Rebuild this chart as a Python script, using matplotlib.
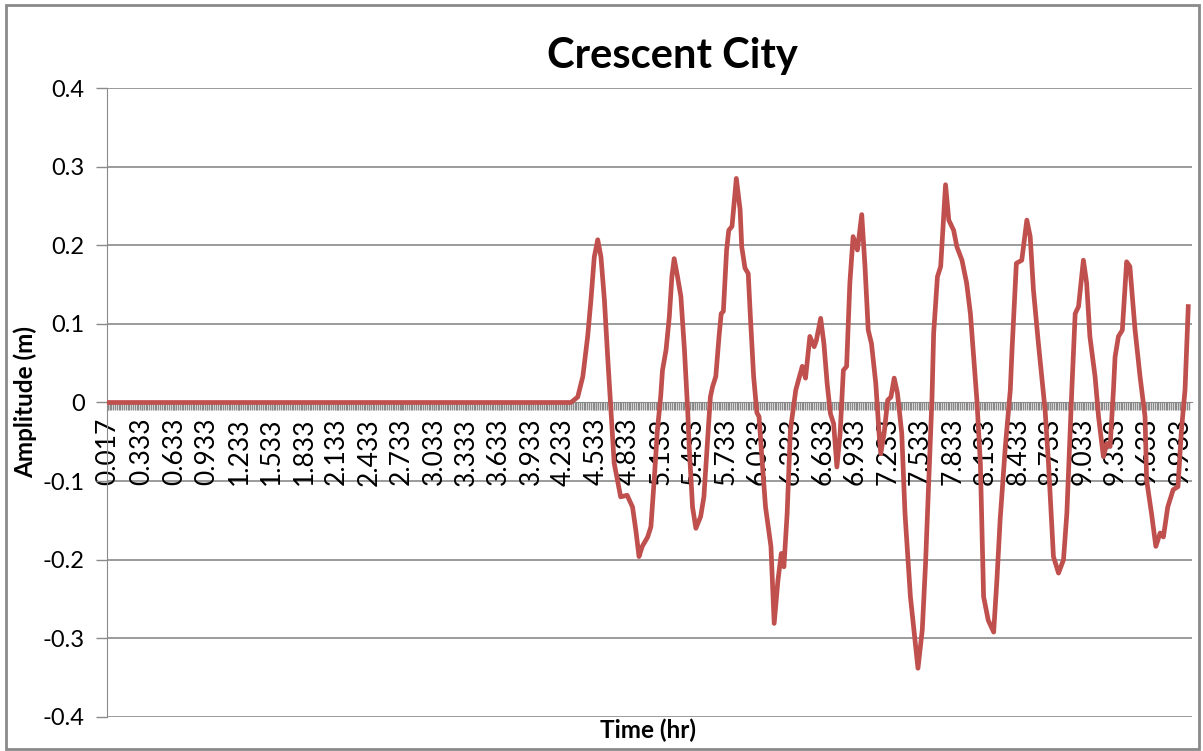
import numpy as np
import matplotlib.pyplot as plt
from matplotlib.patches import Rectangle

plt.rcParams['font.family'] = ['Lato', 'DejaVu Sans']

# trace: time (hr) and amplitude (m)
time_hr = [0.017, 4.30, 4.363, 4.41, 4.455, 4.485, 4.516, 4.548, 4.578, 4.61, 4.64,
           4.67, 4.70, 4.76, 4.82, 4.87, 4.90, 4.93, 4.96, 5.01, 5.04, 5.07, 5.10,
           5.13, 5.147, 5.18, 5.21, 5.234, 5.255, 5.286, 5.317, 5.35, 5.38, 5.394,
           5.425, 5.456, 5.50, 5.53, 5.56, 5.59, 5.61, 5.64, 5.67, 5.69, 5.71, 5.74,
           5.76, 5.79, 5.83, 5.865, 5.88, 5.91, 5.94, 5.96, 5.99, 6.02, 6.04, 6.07,
           6.10, 6.15, 6.18, 6.215, 6.246, 6.27, 6.30, 6.33, 6.38, 6.44, 6.47, 6.51,
           6.55, 6.57, 6.61, 6.64, 6.67, 6.70, 6.73, 6.76, 6.79, 6.82, 6.85, 6.88,
           6.91, 6.95, 6.99, 7.02, 7.05, 7.08, 7.12, 7.15, 7.166, 7.197, 7.23, 7.26,
           7.29, 7.32, 7.36, 7.39, 7.44, 7.51, 7.55, 7.58, 7.61, 7.64, 7.655, 7.69,
           7.72, 7.765, 7.795, 7.84, 7.87, 7.917, 7.96, 7.995, 8.055, 8.087, 8.117,
           8.16, 8.21, 8.24, 8.27, 8.318, 8.364, 8.38, 8.42, 8.47, 8.517, 8.548,
           8.578, 8.624, 8.686, 8.717, 8.763, 8.81, 8.856, 8.887, 8.933, 8.964,
           8.995, 9.04, 9.07, 9.10, 9.148, 9.18, 9.225, 9.256, 9.287, 9.318, 9.333,
           9.364, 9.40, 9.44, 9.47, 9.518, 9.564, 9.61, 9.625, 9.67, 9.71, 9.75,
           9.78, 9.82, 9.87, 9.915, 9.947, 9.98, 10.01]
amplitude_m = [0.0, 0.0, 0.007, 0.033, 0.084, 0.13, 0.185, 0.207, 0.185, 0.13, 0.058,
               -0.01, -0.077, -0.12, -0.118, -0.133, -0.162, -0.196, -0.183, -0.171,
               -0.158, -0.099, -0.035, 0.007, 0.041, 0.067, 0.109, 0.16, 0.183, 0.16,
               0.135, 0.067, -0.01, -0.056, -0.133, -0.16, -0.145, -0.12, -0.056,
               0.007, 0.02, 0.033, 0.084, 0.113, 0.116, 0.194, 0.219, 0.224, 0.285,
               0.245, 0.198, 0.171, 0.164, 0.109, 0.033, -0.013, -0.018, -0.077,
               -0.133, -0.183, -0.281, -0.226, -0.192, -0.209, -0.141, -0.035, 0.016,
               0.046, 0.031, 0.084, 0.071, 0.079, 0.107, 0.075, 0.024, -0.014, -0.027,
               -0.082, -0.039, 0.041, 0.046, 0.152, 0.211, 0.194, 0.239, 0.173, 0.092,
               0.075, 0.024, -0.039, -0.065, -0.039, 0.003, 0.007, 0.031, 0.012,
               -0.039, -0.141, -0.247, -0.338, -0.289, -0.205, -0.099, 0.007, 0.088,
               0.16, 0.173, 0.277, 0.232, 0.219, 0.198, 0.181, 0.152, 0.113, 0.003,
               -0.077, -0.247, -0.277, -0.292, -0.226, -0.149, -0.056, 0.016, 0.067,
               0.177, 0.181, 0.232, 0.211, 0.143, 0.075, -0.01, -0.077, -0.196,
               -0.217, -0.2, -0.141, 0.016, 0.113, 0.122, 0.181, 0.152, 0.084, 0.033,
               -0.018, -0.069, -0.052, -0.056, 0.016, 0.058, 0.084, 0.092, 0.179,
               0.173, 0.092, 0.033, -0.018, -0.099, -0.141, -0.183, -0.166, -0.171,
               -0.133, -0.111, -0.107, -0.035, 0.016, 0.122]

time_labels = ['0.017', '0.333', '0.633', '0.933', '1.233', '1.533', '1.833', '2.133',
               '2.433', '2.733', '3.033', '3.333', '3.633', '3.933', '4.233', '4.533',
               '4.833', '5.133', '5.433', '5.733', '6.033', '6.333', '6.633', '6.933',
               '7.233', '7.533', '7.833', '8.133', '8.433', '8.733', '9.033', '9.333',
               '9.633', '9.933']
amp_ticks = [-0.4, -0.3, -0.2, -0.1, 0, 0.1, 0.2, 0.3, 0.4]
amp_labels = ['-0.4', '-0.3', '-0.2', '-0.1', '0', '0.1', '0.2', '0.3', '0.4']

grey = '#8a8a8a'

fig = plt.figure(figsize=(12.03, 7.51), dpi=100)
ax = fig.add_axes([0.0889, 0.0453, 0.902, 0.8375])

ax.plot(time_hr, amplitude_m, color='#C0504D', lw=3.4, solid_joinstyle='round', zorder=5)

ax.set_ylim(-0.4, 0.4)
ax.set_xlim(0.0087, 10.045)
ax.set_yticks(amp_ticks)
ax.set_yticklabels(amp_labels, fontsize=17)
for v in amp_ticks:
    if v != 0:
        ax.axhline(v, color=grey, lw=1.2, zorder=1)

# category axis sits at zero, one tick per minute
ax.spines['bottom'].set_position(('data', 0))
ax.spines['bottom'].set_color(grey)
ax.spines['left'].set_color(grey)
ax.spines['top'].set_visible(False)
ax.spines['right'].set_visible(False)
ax.set_xticks([float(s) for s in time_labels])
ax.set_xticklabels(time_labels, rotation=90, fontsize=19, va='top')
ax.set_xticks(np.arange(1, 602) / 60, minor=True)
ax.tick_params(axis='x', which='both', length=6, width=1, color=grey, direction='out', pad=5)
ax.tick_params(axis='y', length=8, width=1, color=grey, pad=8)

ax.set_ylabel('Amplitude (m)', fontsize=17.5, fontweight='bold', labelpad=4)
fig.text(0.539, 0.012, 'Time (hr)', fontsize=17.5, fontweight='bold', ha='center', va='bottom')
fig.text(0.559, 0.925, 'Crescent City', fontsize=30, fontweight='bold', ha='center', va='center')

fig.patches.append(Rectangle((0.005, 0.003), 0.992, 0.99, transform=fig.transFigure,
                             fill=False, edgecolor=grey, lw=2))

fig.savefig('out.png', dpi=100)
